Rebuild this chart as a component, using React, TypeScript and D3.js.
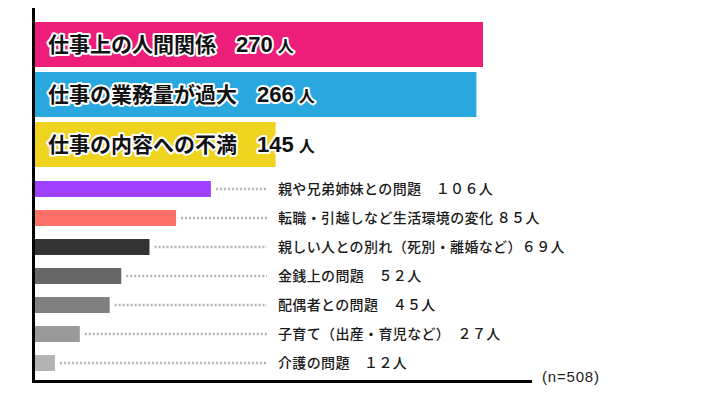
import React, { useEffect, useRef } from 'react'
import * as d3 from 'd3'

const TOP_LABELS = ['仕事上の人間関係', '仕事の業務量が過大', '仕事の内容への不満']
const TOP_VALUES = [270, 266, 145]
const TOP_COLORS = ['#ec1e79', '#29a8e0', '#eed41f']

const SUB_LABELS = [
  '親や兄弟姉妹との問題　',
  '転職・引越しなど生活環境の変化 ',
  '親しい人との別れ（死別・離婚など）',
  '金銭上の問題　',
  '配偶者との問題　',
  '子育て（出産・育児など）　',
  '介護の問題　',
]
const SUB_VALUES = [106, 85, 69, 52, 45, 27, 12]
const SUB_COLORS = ['#a040ff', '#ff7068', '#333333', '#666666', '#808080', '#999999', '#b3b3b3']

const NOTE = '(n=508)'

const W = 701
const H = 393
const JP = '"Noto Sans CJK JP", "Noto Sans", sans-serif'

// half-width digits -> full-width, like the original labels
const fullWidth = (n: number) =>
  String(n).replace(/[0-9]/g, (c) => String.fromCharCode(c.charCodeAt(0) + 0xfee0))

export default function App() {
  const svgRef = useRef<SVGSVGElement>(null)

  useEffect(() => {
    document.body.style.margin = '0'
    if (!svgRef.current) return
    const svg = d3.select(svgRef.current)
    svg.selectAll('*').remove()

    const x = d3.scaleLinear().domain([0, 270]).range([35, 483])
    const yTop = d3.scaleBand<number>().domain(d3.range(TOP_VALUES.length)).range([22, 167]).paddingInner(0.1)
    const ySub = d3.scaleBand<number>().domain(d3.range(SUB_VALUES.length)).range([181, 371]).paddingInner(0.45)

    // big bars
    const top = svg
      .selectAll('g.top')
      .data(TOP_VALUES)
      .enter()
      .append('g')
      .attr('class', 'top')

    top
      .append('rect')
      .attr('x', x(0))
      .attr('y', (_, i) => yTop(i)!)
      .attr('width', (d) => x(d) - x(0))
      .attr('height', yTop.bandwidth())
      .attr('fill', (_, i) => TOP_COLORS[i])

    const tt = top
      .append('text')
      .attr('x', 48)
      .attr('y', (_, i) => yTop(i)! + yTop.bandwidth() / 2)
      .attr('dy', '0.36em')
      .attr('fill', '#111')
      .attr('stroke', '#fff')
      .attr('stroke-width', 4)
      .attr('stroke-linejoin', 'round')
      .attr('paint-order', 'stroke')
      .attr('font-family', JP)
      .attr('font-weight', 700)
      .attr('font-size', 21)

    tt.append('tspan').text((_, i) => TOP_LABELS[i])
    tt.append('tspan')
      .attr('dx', 20)
      .attr('font-family', 'Liberation Sans, Arial, sans-serif')
      .attr('font-size', 22)
      .text((d) => String(d))
    tt.append('tspan')
      .attr('dx', 5)
      .attr('font-size', 16)
      .text('人')

    // small bars
    const sub = svg
      .selectAll('g.sub')
      .data(SUB_VALUES)
      .enter()
      .append('g')
      .attr('class', 'sub')

    sub
      .append('line')
      .attr('x1', (d) => x(d) + 5)
      .attr('x2', 267)
      .attr('y1', (_, i) => ySub(i)! + ySub.bandwidth() / 2)
      .attr('y2', (_, i) => ySub(i)! + ySub.bandwidth() / 2)
      .attr('stroke', '#b3b3b3')
      .attr('stroke-width', 2.5)
      .attr('stroke-dasharray', '2,2')

    sub
      .append('rect')
      .attr('x', x(0))
      .attr('y', (_, i) => ySub(i)!)
      .attr('width', (d) => x(d) - x(0))
      .attr('height', ySub.bandwidth())
      .attr('fill', (_, i) => SUB_COLORS[i])

    sub
      .append('text')
      .attr('x', 278)
      .attr('y', (_, i) => ySub(i)! + ySub.bandwidth() / 2)
      .attr('dy', '0.36em')
      .attr('fill', '#1a1a1a')
      .attr('font-family', JP)
      .attr('font-weight', 500)
      .attr('font-size', 14)
      .attr('letter-spacing', 0.35)
      .text((d, i) => SUB_LABELS[i] + fullWidth(d) + '人')

    // axes lines
    svg.append('line')
      .attr('x1', 33.5).attr('x2', 33.5)
      .attr('y1', 8).attr('y2', 383)
      .attr('stroke', '#000').attr('stroke-width', 3)
    svg.append('line')
      .attr('x1', 32).attr('x2', 532)
      .attr('y1', 381.5).attr('y2', 381.5)
      .attr('stroke', '#000').attr('stroke-width', 3)

    svg.append('text')
      .attr('x', 542)
      .attr('y', 382)
      .attr('fill', '#222')
      .attr('font-family', 'Liberation Sans, Arial, sans-serif')
      .attr('font-size', 15)
      .attr('letter-spacing', 0.8)
      .text(NOTE)
  }, [])

  return <svg ref={svgRef} width={W} height={H} style={{ display: 'block', background: '#fff' }} />
}
